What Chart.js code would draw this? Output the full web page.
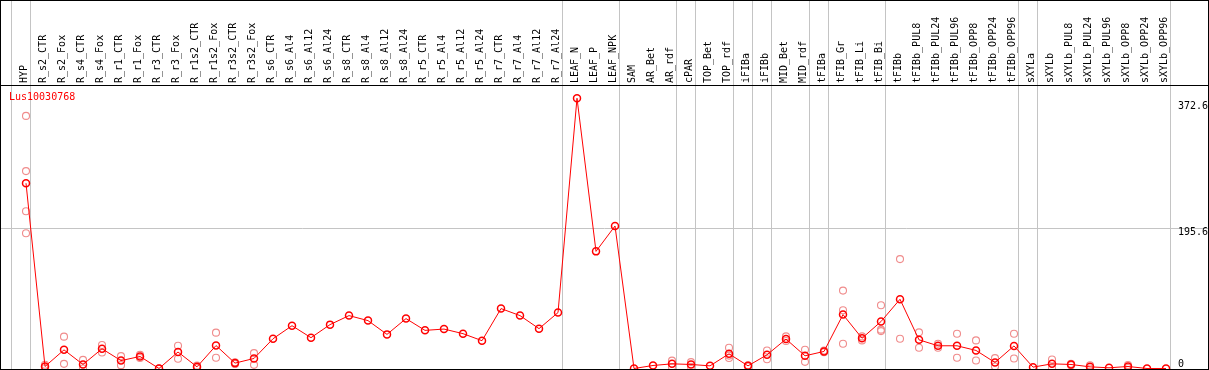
<!DOCTYPE html>
<html>
<head>
<meta charset="utf-8">
<script src="https://cdn.jsdelivr.net/npm/chart.js@4.4.1/dist/chart.umd.min.js"></script>
<style>
  html, body { margin: 0; padding: 0; background: #fff; }
  #wrap { width: 1209px; height: 370px; }
</style>
</head>
<body>
<div id="wrap"><canvas id="chart"></canvas></div>
<script>
const geneName = 'Lus10030768'

const categories = [
  'HYP', 'R_s2_CTR', 'R_s2_Fox', 'R_s4_CTR', 'R_s4_Fox', 'R_r1_CTR', 'R_r1_Fox', 'R_r3_CTR', 'R_r3_Fox',
  'R_r1s2_CTR', 'R_r1s2_Fox', 'R_r3s2_CTR', 'R_r3s2_Fox', 'R_s6_CTR', 'R_s6_Al4', 'R_s6_Al12', 'R_s6_Al24',
  'R_s8_CTR', 'R_s8_Al4', 'R_s8_Al12', 'R_s8_Al24', 'R_r5_CTR', 'R_r5_Al4', 'R_r5_Al12', 'R_r5_Al24',
  'R_r7_CTR', 'R_r7_Al4', 'R_r7_Al12', 'R_r7_Al24', 'LEAF_N', 'LEAF_P', 'LEAF_NPK', 'SAM', 'AR_Bet', 'AR_rdf',
  'cPAR', 'TOP_Bet', 'TOP_rdf', 'iFIBa', 'iFIBb', 'MID_Bet', 'MID_rdf', 'tFIBa', 'tFIB_Gr', 'tFIB_Li', 'tFIB_Bi',
  'tFIBb', 'tFIBb_PUL8', 'tFIBb_PUL24', 'tFIBb_PUL96', 'tFIBb_OPP8', 'tFIBb_OPP24', 'tFIBb_OPP96',
  'sXYLa', 'sXYLb', 'sXYLb_PUL8', 'sXYLb_PUL24', 'sXYLb_PUL96', 'sXYLb_OPP8', 'sXYLb_OPP24', 'sXYLb_OPP96'
]

// mean expression per sample
const means = [
  258.5, 2.8, 26, 5.6, 27.5, 11, 16.8, 0, 23, 2.3, 32, 7.5, 14, 41.5, 59.7, 43, 61.2,
  73.8, 66.8, 47.6, 69.6, 53.2, 55, 48.6, 38.8, 83.6, 73.8, 55.6, 78, 377, 163.4, 198.8,
  0, 4.2, 6.5, 5.6, 3.7, 20.5, 3.7, 19.1, 41, 17.7, 23.8, 75.2, 42.2, 65.5,
  96.6, 40, 31.7, 31.7, 25.2, 8.4, 31.5, 1.9, 6.5, 5.6, 2.3, 1, 2.8, 0, 0
]

// individual replicates per sample
const replicates = [
  [352.4, 275.4, 219.4, 188.6], [5.2, 0.4], [44.4, 6.5], [12, 0], [32.7, 22.4], [17.3, 4.7], [19, 14.6],
  [0, 0], [31.7, 13.5], [4, 0.6], [50, 14.9], [8.6, 6.4], [21.5, 5.1],
  [], [], [], [], [], [], [], [], [], [], [], [], [], [], [], [], [], [], [],
  [], [], [11, 2], [8.9, 2.3], [], [28.9, 18, 14.6], [4.5, 2.9], [25.2, 13], [44.8, 38.3], [26.1, 9.3],
  [25, 22.6], [108.7, 81.2, 34.5], [44.8, 39.2], [88.2, 54.2, 52.2], [152.6, 41.6], [50.4, 28.9],
  [34.5, 28.9], [48.5, 14.9], [39.2, 11.2], [14.5, 2.8], [48.5, 14], [], [12.5, 0.5], [6.5, 4.7],
  [4.5, 0], [], [4.9, 0.7], [], []
]

// group separators sit just after these sample indices
const groupEnds = [-1, 0, 28, 31, 34, 35, 37, 38, 39, 41, 42, 45, 52, 53, 60]
const yTicks = [0, 195.6, 372.6]
const yGridAt = [195.6]

const MONO = "'DejaVu Sans Mono', 'Liberation Mono', monospace"
const GRID = '#c4c4c4'
const NONE = 'rgba(0,0,0,0)'

const boundaryVals = groupEnds.map(i => i + 0.25)
const xTickVals = [...categories.map((_, i) => i), ...boundaryVals].sort((a, b) => a - b)

const meanPoints = means.map((v, i) => ({ x: i, y: v }))
const repPoints = []
replicates.forEach((reps, i) => reps.forEach(v => repPoints.push({ x: i, y: v })))

const framePlugin = {
  id: 'frame',
  afterDraw (chart) {
    const { ctx, chartArea } = chart
    ctx.save()
    ctx.fillStyle = '#ff0000'
    ctx.font = '10px ' + MONO
    ctx.textAlign = 'left'
    ctx.textBaseline = 'middle'
    ctx.fillText(geneName, chartArea.left + 8, chartArea.top + 12)
    ctx.strokeStyle = '#000'
    ctx.lineWidth = 1
    ctx.strokeRect(0.5, 0.5, chart.width - 1, chart.height - 1)
    ctx.restore()
  }
}

new Chart(document.getElementById('chart'), {
  type: 'line',
  data: {
    datasets: [
      {
        label: 'mean', data: meanPoints,
        borderColor: '#ff0000', borderWidth: 1, tension: 0,
        pointStyle: 'circle', pointRadius: 3.5, pointBorderWidth: 1.5,
        pointBorderColor: '#ff0000', pointBackgroundColor: NONE
      },
      {
        label: 'replicates', data: repPoints, showLine: false,
        pointStyle: 'circle', pointRadius: 3.5, pointBorderWidth: 1.1,
        pointBorderColor: '#f08c8c', pointBackgroundColor: NONE
      }
    ]
  },
  options: {
    responsive: true, maintainAspectRatio: false, animation: false, devicePixelRatio: 1,
    layout: { autoPadding: false, padding: { left: 1, right: 1, top: 0, bottom: 1 } },
    plugins: { legend: { display: false }, tooltip: { enabled: false } },
    scales: {
      x: {
        type: 'linear', position: 'top', min: -1.316, max: 62.21,
        afterBuildTicks: s => { s.ticks = xTickVals.map(v => ({ value: v })) },
        afterFit: s => { s.height = 85; s.paddingLeft = 0; s.paddingRight = 0 },
        grid: {
          color: c => (c.tick && boundaryVals.includes(c.tick.value)) ? GRID : NONE,
          tickLength: 85, lineWidth: 1
        },
        border: { color: '#000', width: 1 },
        ticks: {
          autoSkip: false, minRotation: 90, maxRotation: 90, padding: -83,
          color: '#000', font: { family: MONO, size: 10, lineHeight: 0.15 },
          callback: v => Number.isInteger(v) ? categories[v] : ''
        }
      },
      y: {
        type: 'linear', position: 'right', min: -0.7, max: 395.5,
        afterBuildTicks: s => { s.ticks = yTicks.map(v => ({ value: v })) },
        afterFit: s => { s.width = 0; s.paddingTop = 0; s.paddingBottom = 0 },
        grid: {
          color: c => (c.tick && yGridAt.includes(c.tick.value)) ? GRID : NONE,
          drawTicks: false
        },
        border: { color: '#000', width: 1 },
        ticks: {
          mirror: true, crossAlign: 'far', padding: 0,
          color: '#000', font: { family: MONO, size: 10, lineHeight: 0.9 },
          callback: v => v === 0 ? ['0', ''] : ['', String(v)]
        }
      }
    }
  },
  plugins: [framePlugin]
})
</script>
</body>
</html>
